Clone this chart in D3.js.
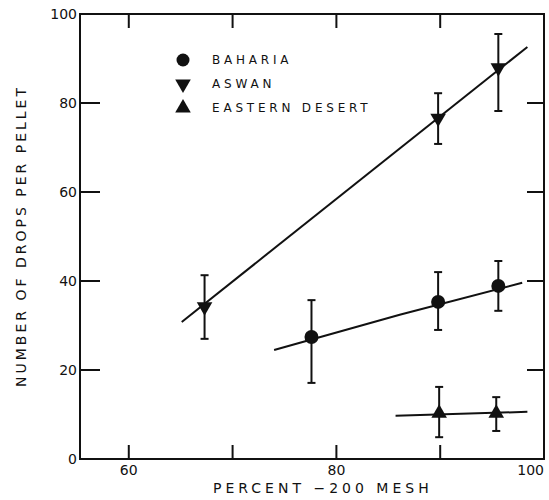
<!DOCTYPE html>
<html>
<head>
<meta charset="utf-8">
<script src="https://cdn.jsdelivr.net/npm/d3@7"></script>
<style>
  body { margin: 0; background: #fff; }
  svg { display: block; }
  text { font-family: "DejaVu Sans", sans-serif; fill: #111; }
</style>
</head>
<body>
<div id="chart"></div>
<script>
// tick positions and labels
const xTicks = [60, 70, 80, 90]
const xLabels = [60, 80, 100]
const yTicks = [20, 40, 60, 80]
const yLabels = [0, 20, 40, 60, 80, 100]

// Aswan (down triangles)
const aswanX = [67.3, 89.8, 95.6]
const aswanY = [34.2, 76.6, 87.9]
const aswanLo = [27.0, 70.8, 78.2]
const aswanHi = [41.3, 82.2, 95.5]
const aswanFitX = [65.1, 98.4]
const aswanFitY = [30.8, 92.6]

// Baharia (circles)
const bahariaX = [77.6, 89.8, 95.6]
const bahariaY = [27.4, 35.3, 38.9]
const bahariaLo = [17.1, 29.0, 33.3]
const bahariaHi = [35.7, 42.0, 44.5]
const bahariaFitX = [74.0, 86.1, 97.9]
const bahariaFitY = [24.5, 32.4, 39.6]

// Eastern Desert (up triangles)
const eastX = [89.9, 95.4]
const eastY = [10.3, 10.3]
const eastLo = [4.9, 6.3]
const eastHi = [16.2, 13.9]
const eastFitX = [85.7, 98.4]
const eastFitY = [9.7, 10.6]

const legendNames = ['BAHARIA', 'ASWAN', 'EASTERN DESERT']

const W = 549, H = 500
const plot = {left: 80, right: 544, top: 14, bottom: 459}

const svg = d3.select('#chart').append('svg')
  .attr('width', W)
  .attr('height', H)

const x = d3.scaleLinear().domain([55.3, 100]).range([plot.left, plot.right])
const y = d3.scaleLinear().domain([0, 100]).range([plot.bottom, plot.top])

// frame
svg.append('rect')
  .attr('x', plot.left)
  .attr('y', plot.top)
  .attr('width', plot.right - plot.left)
  .attr('height', plot.bottom - plot.top)
  .attr('fill', 'none')
  .attr('stroke', '#111')
  .attr('stroke-width', 2)

// inward ticks on all four sides
const tickG = svg.append('g').attr('stroke', '#111').attr('stroke-width', 2)
xTicks.forEach((t) => {
  tickG.append('line').attr('x1', x(t)).attr('x2', x(t))
    .attr('y1', plot.bottom).attr('y2', plot.bottom - 14)
  tickG.append('line').attr('x1', x(t)).attr('x2', x(t))
    .attr('y1', plot.top).attr('y2', plot.top + 14)
})
yTicks.forEach((t) => {
  tickG.append('line').attr('x1', plot.left).attr('x2', plot.left + 20)
    .attr('y1', y(t)).attr('y2', y(t))
  tickG.append('line').attr('x1', plot.right).attr('x2', plot.right - 17)
    .attr('y1', y(t)).attr('y2', y(t))
})

// tick labels (the last one is pulled in so it stays inside the page)
svg.append('g').selectAll('text')
  .data(xLabels)
  .enter().append('text')
    .attr('x', (d) => Math.min(x(d), W - 1))
    .attr('y', 475)
    .attr('text-anchor', (d) => x(d) + 12 > W ? 'end' : 'middle')
    .attr('font-size', 14)
    .text((d) => d)

svg.append('g').selectAll('text')
  .data(yLabels)
  .enter().append('text')
    .attr('x', 77)
    .attr('y', (d) => y(d))
    .attr('dy', '0.36em')
    .attr('text-anchor', 'end')
    .attr('font-size', 14)
    .text((d) => d)

// axis titles
svg.append('text')
  .attr('x', 213)
  .attr('y', 493)
  .attr('font-size', 14)
  .attr('letter-spacing', 4)
  .text('PERCENT \u2212200 MESH')

svg.append('text')
  .attr('transform', 'translate(26,236) rotate(-90)')
  .attr('text-anchor', 'middle')
  .attr('font-size', 14)
  .attr('letter-spacing', 3)
  .text('NUMBER OF DROPS PER PELLET')

// fitted lines
const line = d3.line()
  .x((d) => x(d[0]))
  .y((d) => y(d[1]))
  .curve(d3.curveNatural)

const fits = [
  d3.zip(aswanFitX, aswanFitY),
  d3.zip(bahariaFitX, bahariaFitY),
  d3.zip(eastFitX, eastFitY),
]
svg.append('g').selectAll('path')
  .data(fits)
  .enter().append('path')
    .attr('d', line)
    .attr('fill', 'none')
    .attr('stroke', '#111')
    .attr('stroke-width', 2)

// error bars with caps
const bars = []
const addBars = (xs, lo, hi) => xs.forEach((v, i) => bars.push({x: v, lo: lo[i], hi: hi[i]}))
addBars(aswanX, aswanLo, aswanHi)
addBars(bahariaX, bahariaLo, bahariaHi)
addBars(eastX, eastLo, eastHi)

const errG = svg.append('g').attr('stroke', '#111').attr('stroke-width', 2)
bars.forEach((b) => {
  errG.append('line').attr('x1', x(b.x)).attr('x2', x(b.x))
    .attr('y1', y(b.lo)).attr('y2', y(b.hi))
  ;[b.lo, b.hi].forEach((v) => {
    errG.append('line').attr('x1', x(b.x) - 4).attr('x2', x(b.x) + 4)
      .attr('y1', y(v)).attr('y2', y(v))
  })
})

// markers
const tri = d3.symbol().type(d3.symbolTriangle).size(105)
const drawMarkers = (xs, ys, kind) => {
  const g = svg.append('g').attr('fill', '#111')
  xs.forEach((v, i) => {
    if (kind === 'circle') {
      g.append('circle').attr('cx', x(v)).attr('cy', y(ys[i])).attr('r', 7)
    } else {
      const rot = kind === 'down' ? 180 : 0
      g.append('path').attr('d', tri)
        .attr('transform', `translate(${x(v)},${y(ys[i])}) rotate(${rot})`)
    }
  })
}
drawMarkers(bahariaX, bahariaY, 'circle')
drawMarkers(aswanX, aswanY, 'down')
drawMarkers(eastX, eastY, 'up')

// legend
const legend = svg.append('g')
const kinds = ['circle', 'down', 'up']
legendNames.forEach((name, i) => {
  const ly = 60 + i * 24
  if (kinds[i] === 'circle') {
    legend.append('circle').attr('cx', 183).attr('cy', ly).attr('r', 6.5).attr('fill', '#111')
  } else {
    legend.append('path').attr('d', tri).attr('fill', '#111')
      .attr('transform', `translate(183,${ly}) rotate(${kinds[i] === 'down' ? 180 : 0})`)
  }
  legend.append('text')
    .attr('x', 212)
    .attr('y', ly)
    .attr('dy', '0.36em')
    .attr('font-size', 12)
    .attr('letter-spacing', 3.8)
    .text(name)
})
</script>
</body>
</html>
